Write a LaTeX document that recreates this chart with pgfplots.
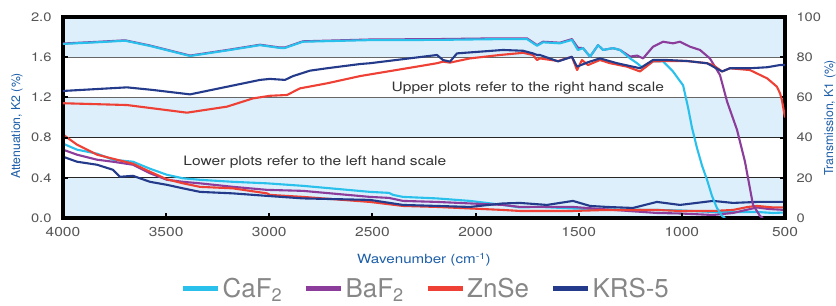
\documentclass[border=0pt]{standalone}
\usepackage{pgfplots}
\pgfplotsset{compat=1.18}
\usepackage{fontspec}
\setmainfont{TeX Gyre Heros}[FakeStretch=1.2]
\newfontfamily\plainfont{TeX Gyre Heros}
\definecolor{bandblue}{RGB}{220,239,250}
\definecolor{cafcol}{RGB}{41,192,236}
\definecolor{bafcol}{RGB}{140,60,155}
\definecolor{znscol}{RGB}{238,64,53}
\definecolor{krscol}{RGB}{36,58,138}
\definecolor{labblue}{RGB}{29,94,168}
\definecolor{tickgray}{RGB}{85,85,85}
\definecolor{leggray}{RGB}{135,135,135}
\begin{document}
\begin{tikzpicture}
\path[use as bounding box] (0,0) rectangle (836bp,306bp);
% ---------------- left axis: attenuation K2 ----------------
\begin{axis}[
  at={(63bp,88bp)}, anchor=south west, scale only axis,
  width=722bp, height=201bp,
  xmin=500, xmax=4000, x dir=reverse, ymin=0, ymax=2,
  xtick={500,1000,1500,2000,2500,3000,3500,4000},
  ytick={0,0.4,0.8,1.2,1.6,2.0},
  axis on top,
  axis line style={line width=3.5bp},
  tick align=inside, xtick pos=bottom, ytick pos=left,
  major tick length=5bp, tick style={black, line width=2bp},
  /pgf/number format/assume math mode=true,
  yticklabel style={font=\fontsize{12.3}{14}\selectfont, text=tickgray, /pgf/number format/fixed, /pgf/number format/fixed zerofill, /pgf/number format/precision=1},
  xticklabel style={font=\fontsize{13}{15}\selectfont, text=tickgray, /pgf/number format/1000 sep={}},
  yticklabel shift=8bp, xticklabel shift=6bp,
  ylabel={Attenuation, K2 (\%)},
  ylabel style={at={(axis description cs:-0.0637,0.458)}, anchor=center, font=\plainfont\fontsize{12.3}{14}\selectfont, text=labblue},
  xlabel={Wavenumber (cm\textsuperscript{-1})},
  xlabel style={at={(axis description cs:0.5,-0.209)}, anchor=center, font=\fontsize{12.7}{14}\selectfont, text=labblue},
  legend columns=4,
  legend style={at={(axis description cs:0.5028,-0.350)}, anchor=center, draw=none, fill=none,
    font=\plainfont\fontsize{26}{29}\selectfont, text=leggray,
    /tikz/every even column/.append style={column sep=20bp}},
  legend image code/.code={\draw[line width=4.5bp] (0bp,0bp) -- (35bp,0bp);},
  every axis plot/.append style={line width=2.1bp, line join=round},
]
% background bands
\fill[bandblue] (axis cs:4000,0) rectangle (axis cs:500,0.4);
\fill[bandblue] (axis cs:4000,0.8) rectangle (axis cs:500,1.2);
\fill[bandblue] (axis cs:4000,1.6) rectangle (axis cs:500,2);
% grid lines
\draw[black!60, line width=1.2bp] (axis cs:4000,1.6) -- (axis cs:500,1.6);
\draw[black!60, line width=1.2bp] (axis cs:4000,1.2) -- (axis cs:500,1.2);
\draw[black!85, line width=1.2bp] (axis cs:4000,0.8) -- (axis cs:500,0.8);
\draw[black!85, line width=1.2bp] (axis cs:4000,0.4) -- (axis cs:500,0.4);
% lower plots (left hand scale)
\addplot[cafcol] coordinates {
(4000,0.74) (3932,0.68) (3835,0.64) (3758,0.58) (3661,0.56) (3578,0.49) (3496,0.43)
(3418,0.395) (3336,0.38) (3176,0.36) (3011,0.345) (2837,0.32) (2512,0.26) (2420,0.25)
(2400,0.23) (2352,0.21) (2187,0.195) (2027,0.17) (1867,0.13) (1785,0.105) (1688,0.11)
(1528,0.095) (1363,0.085) (1121,0.08) (1009,0.075) (849,0.06) (752,0.06) (636,0.06)
(558,0.05) (500,0.055)};
\addlegendentry{CaF\textsubscript{2}}
\addplot[bafcol] coordinates {
(4000,0.68) (3932,0.63) (3835,0.58) (3758,0.56) (3661,0.53) (3578,0.445) (3496,0.38)
(3418,0.36) (3336,0.345) (3176,0.31) (3011,0.28) (2837,0.27) (2512,0.21) (2420,0.2)
(2352,0.17) (2187,0.16) (2027,0.145) (1867,0.13) (1785,0.11) (1688,0.11) (1528,0.11)
(1363,0.085) (1121,0.05) (1009,0.045) (849,0.03) (752,0.05) (636,0.105) (580,0.09)
(500,0.08)};
\addlegendentry{BaF\textsubscript{2}}
\addplot[znscol] coordinates {
(4000,0.83) (3932,0.73) (3835,0.63) (3758,0.59) (3661,0.54) (3578,0.46) (3496,0.385)
(3418,0.345) (3336,0.31) (3176,0.295) (3011,0.245) (2997,0.23) (2837,0.21) (2512,0.16)
(2352,0.12) (2187,0.11) (2027,0.095) (1867,0.08) (1785,0.07) (1654,0.07) (1528,0.07)
(1363,0.08) (1121,0.08) (1009,0.07) (849,0.07) (752,0.08) (680,0.11) (636,0.12)
(558,0.105) (500,0.105)};
\addlegendentry{ZnSe}
\addplot[krscol] coordinates {
(4000,0.61) (3932,0.56) (3835,0.53) (3758,0.48) (3724,0.41) (3661,0.42) (3627,0.395)
(3578,0.36) (3496,0.33) (3418,0.295) (3336,0.26) (3176,0.245) (3011,0.22) (2837,0.195)
(2512,0.18) (2352,0.13) (2187,0.12) (2027,0.11) (1867,0.145) (1785,0.15) (1654,0.13)
(1528,0.17) (1445,0.12) (1363,0.11) (1237,0.10) (1121,0.16) (1009,0.13) (849,0.17)
(752,0.15) (636,0.16) (500,0.16)};
\addlegendentry{KRS-5}
\node[anchor=west, font=\fontsize{13}{15}\selectfont, text=black!80] at (axis cs:2424,1.29) {Upper plots refer to the right hand scale};
\node[anchor=west, font=\fontsize{13}{15}\selectfont, text=black!80] at (axis cs:3433,0.56) {Lower plots refer to the left hand scale};
\end{axis}
% ---------------- right axis: transmission K1 ----------------
\begin{axis}[
  at={(63bp,88bp)}, anchor=south west, scale only axis,
  width=722bp, height=201bp,
  xmin=500, xmax=4000, x dir=reverse, ymin=0, ymax=100,
  hide x axis,
  axis y line*=right,
  axis line style={line width=3.5bp},
  ytick={0,20,40,60,80,100},
  tick align=inside,
  major tick length=5bp, tick style={black, line width=2bp},
  /pgf/number format/assume math mode=true,
  yticklabel style={font=\fontsize{12.3}{14}\selectfont, text=tickgray},
  yticklabel shift=8bp,
  ylabel={Transmission, K1 (\%)},
  ylabel style={at={(axis description cs:1.0623,0.498)}, anchor=center, font=\plainfont\fontsize{12.3}{14}\selectfont, text=labblue},
  every axis plot/.append style={line width=2.1bp, line join=round},
]
\addplot[bafcol] coordinates {
(4000,86.8) (3821,87.7) (3699,88.4) (3578,85.8) (3384,80.8) (3190,83.8) (3045,86.2)
(2948,84.8) (2924,84.8) (2885,86.2) (2837,87.9) (2512,88.8) (2187,89) (1882,89.4)
(1751,89.4) (1702,86) (1673,87.7) (1591,87.2) (1533,89) (1504,84.7) (1479,84.5)
(1445,80.3) (1406,86) (1382,83.6) (1334,84.5) (1300,83.6) (1251,80.3) (1217,80.8)
(1188,79.4) (1140,85.2) (1091,87.7) (1043,86.9) (1009,87.7) (960,85.2) (912,83.6)
(864,79.4) (815,71.1) (781,58) (733,44) (694,28) (655,6.5) (621,1) (607,0)};
\addplot[cafcol] coordinates {
(4000,86.6) (3821,87.5) (3699,88.2) (3578,85.6) (3384,80.6) (3190,83.6) (3045,86)
(2948,84.6) (2924,84.6) (2885,86) (2837,87.7) (2512,88.5) (2187,88.6) (1882,89)
(1751,89) (1702,85.7) (1673,87.4) (1591,86.9) (1533,88.6) (1504,83.6) (1479,84.5)
(1445,80.3) (1406,86) (1382,83.6) (1334,84.5) (1300,83.6) (1251,79.4) (1217,77)
(1188,74.5) (1140,77.9) (1091,77.9) (1043,72.9) (994,66) (970,55) (951,45) (927,35)
(902,26) (878,19) (854,11) (830,5) (805,1) (790,0)};
\addplot[znscol] coordinates {
(4000,57.1) (3690,56.2) (3399,52.4) (3205,55.4) (3079,59.5) (2997,60.8) (2914,61.2)
(2851,64.5) (2720,67) (2560,70.6) (2187,77) (2158,77.8) (2124,77.3) (2027,79.4)
(1882,81.1) (1799,81.9) (1770,82.2) (1722,81.1) (1702,78.6) (1688,79.4) (1600,78.1)
(1533,80.2) (1508,73.6) (1484,78.6) (1455,76.1) (1397,78.6) (1348,77) (1266,75.3)
(1203,72.9) (1140,77.9) (1072,78.1) (975,78.1) (878,77) (849,76.1) (805,72.9)
(767,74.5) (670,73.6) (587,69.5) (558,67) (539,65.3) (524,62) (515,58.7) (500,50)};
\addplot[krscol] coordinates {
(4000,63.2) (3690,65) (3564,63.7) (3384,61.5) (3205,65.3) (3045,68.7) (2997,69.2)
(2924,68.7) (2885,70.6) (2803,73.3) (2720,74.5) (2560,76.6) (2512,77) (2187,81.1)
(2158,78.6) (2124,77.8) (2090,81.9) (1867,83.6) (1770,83.2) (1722,81.9) (1702,81.1)
(1688,81.1) (1600,77.9) (1533,80.2) (1508,75.3) (1455,77.5) (1397,79.4) (1314,77)
(1203,74.5) (1140,78.6) (1072,78.6) (975,78.1) (878,77) (805,72.9) (767,74.5)
(670,74.5) (587,75) (524,76.1) (500,76.1)};
\end{axis}
\end{tikzpicture}
\end{document}
